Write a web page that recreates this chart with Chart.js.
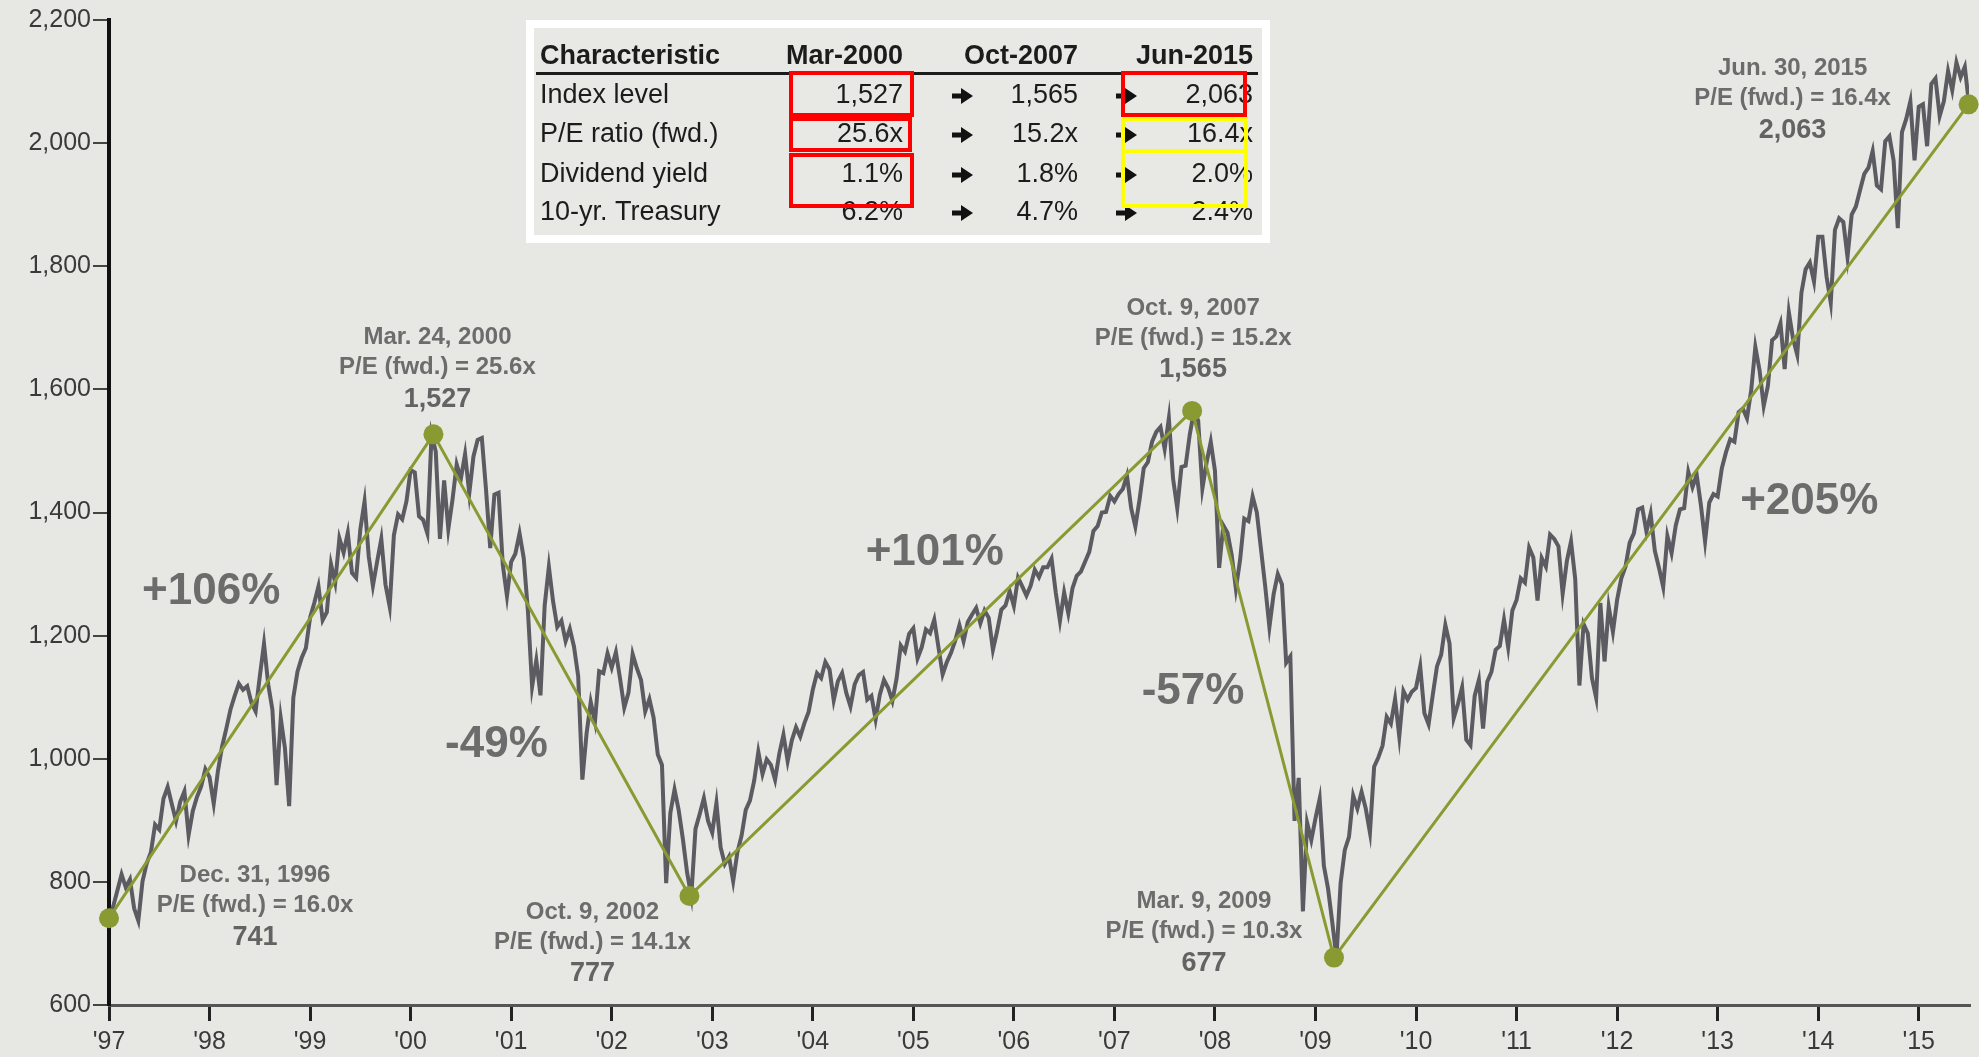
<!DOCTYPE html>
<html>
<head>
<meta charset="utf-8">
<title>S&amp;P 500 Index at inflection points</title>
<script src="https://cdn.jsdelivr.net/npm/chart.js@4.4.1/dist/chart.umd.min.js"></script>
<style>
    html, body { margin: 0; padding: 0; background: #e7e7e3; }
    #spxChart { display: block; }
</style>
</head>
<body>
<canvas id="spxChart" width="1979" height="1057"></canvas>
<script>
// S&P 500 level, Dec. 31, 1996 close, then two readings per month
// (intramonth swing, month-end close) for each year
const spxStart = 741;
const spx1997 = [760, 786, 812, 791, 804, 757, 737, 801, 830, 848, 893, 885, 935, 954, 926, 899, 930, 947, 876, 915, 938, 955, 983, 970];
const spx1998 = [927, 980, 1020, 1049, 1080, 1102, 1122, 1112, 1118, 1091, 1077, 1134, 1187, 1121, 1080, 957, 1066, 1017, 923, 1099, 1142, 1164, 1180, 1229];
const spx1999 = [1253, 1280, 1225, 1238, 1316, 1286, 1358, 1335, 1367, 1302, 1294, 1373, 1418, 1329, 1281, 1320, 1357, 1283, 1247, 1363, 1397, 1389, 1418, 1469];
const spx2000 = [1465, 1394, 1388, 1366, 1527, 1499, 1357, 1452, 1373, 1421, 1478, 1455, 1495, 1431, 1491, 1518, 1521, 1437, 1342, 1429, 1432, 1315, 1264, 1320];
const spx2001 = [1333, 1366, 1326, 1240, 1117, 1160, 1103, 1249, 1312, 1256, 1214, 1224, 1191, 1211, 1182, 1134, 966, 1041, 1092, 1060, 1142, 1139, 1171, 1148];
const spx2002 = [1173, 1130, 1083, 1107, 1170, 1147, 1128, 1077, 1097, 1067, 1007, 990, 798, 912, 950, 916, 869, 815, 777, 886, 910, 936, 899, 880];
const spx2003 = [928, 856, 829, 841, 801, 848, 875, 917, 932, 964, 1011, 975, 999, 990, 966, 1008, 1039, 996, 1030, 1051, 1036, 1058, 1076, 1112];
const spx2004 = [1139, 1131, 1157, 1145, 1095, 1126, 1139, 1107, 1085, 1121, 1136, 1141, 1096, 1102, 1064, 1104, 1128, 1115, 1094, 1130, 1184, 1174, 1203, 1212];
const spx2005 = [1163, 1181, 1210, 1204, 1226, 1181, 1137, 1157, 1172, 1192, 1217, 1191, 1222, 1234, 1245, 1220, 1241, 1229, 1177, 1207, 1242, 1249, 1272, 1248];
const spx2006 = [1294, 1280, 1265, 1281, 1307, 1295, 1311, 1311, 1325, 1270, 1224, 1270, 1236, 1277, 1297, 1304, 1320, 1336, 1370, 1378, 1400, 1401, 1427, 1418];
const spx2007 = [1430, 1438, 1460, 1407, 1377, 1421, 1472, 1482, 1515, 1531, 1539, 1503, 1553, 1455, 1407, 1474, 1476, 1527, 1565, 1549, 1439, 1481, 1515, 1468];
const spx2008 = [1310, 1379, 1367, 1331, 1276, 1323, 1390, 1386, 1426, 1400, 1340, 1280, 1214, 1267, 1300, 1283, 1156, 1166, 899, 969, 752, 896, 868, 903];
const spx2009 = [935, 826, 789, 735, 677, 798, 852, 873, 940, 919, 946, 919, 880, 987, 1002, 1021, 1068, 1057, 1097, 1036, 1110, 1096, 1109, 1115];
const spx2010 = [1150, 1074, 1056, 1104, 1150, 1169, 1217, 1187, 1066, 1089, 1116, 1031, 1022, 1102, 1128, 1049, 1125, 1141, 1177, 1183, 1226, 1181, 1241, 1258];
const spx2011 = [1293, 1286, 1343, 1327, 1257, 1326, 1312, 1364, 1357, 1345, 1268, 1321, 1353, 1292, 1119, 1219, 1204, 1131, 1099, 1253, 1158, 1247, 1206, 1258];
const spx2012 = [1293, 1312, 1351, 1366, 1405, 1408, 1369, 1398, 1338, 1310, 1279, 1362, 1334, 1379, 1405, 1407, 1466, 1441, 1461, 1412, 1353, 1416, 1430, 1426];
const spx2013 = [1472, 1498, 1519, 1515, 1563, 1569, 1553, 1598, 1669, 1631, 1573, 1606, 1680, 1686, 1707, 1633, 1725, 1682, 1656, 1757, 1795, 1806, 1775, 1848];
const spx2014 = [1848, 1783, 1741, 1859, 1878, 1872, 1815, 1884, 1897, 1924, 1950, 1960, 1987, 1931, 1925, 2003, 2011, 1972, 1862, 2018, 2039, 2068, 1972, 2059];
const spx2015 = [2063, 1995, 2096, 2105, 2044, 2068, 2117, 2086, 2131, 2107, 2124, 2063];

// Market peaks and troughs (date as decimal year)
const pivotDates = [1997.0, 2000.227, 2002.773, 2007.773, 2009.184, 2015.496];
const pivotLevels = [741, 1527, 777, 1565, 677, 2063];
const pivotDateLabels = ['Dec. 31, 1996', 'Mar. 24, 2000', 'Oct. 9, 2002', 'Oct. 9, 2007', 'Mar. 9, 2009', 'Jun. 30, 2015'];
const pivotPE = ['16.0x', '25.6x', '14.1x', '15.2x', '10.3x', '16.4x'];

// Summary table
const tableColumns = ['Mar-2000', 'Oct-2007', 'Jun-2015'];
const tableRowNames = ['Index level', 'P/E ratio (fwd.)', 'Dividend yield', '10-yr. Treasury'];
const indexLevel = ['1,527', '1,565', '2,063'];
const peRatio = ['25.6x', '15.2x', '16.4x'];
const dividendYield = ['1.1%', '1.8%', '2.0%'];
const treasury10y = ['6.2%', '4.7%', '2.4%'];

const yTicks = [600, 800, 1000, 1200, 1400, 1600, 1800, 2000, 2200];

const FONT = "'Liberation Sans', Arial, Helvetica, sans-serif";
const GREEN = '#8a9a32';
const LINE_GREY = '#5b5b61';
const LABEL_GREY = '#6c6c6c';

// Build the index series as {x, y} points
const spxYears = [spx1997, spx1998, spx1999, spx2000, spx2001, spx2002, spx2003, spx2004, spx2005, spx2006,
    spx2007, spx2008, spx2009, spx2010, spx2011, spx2012, spx2013, spx2014, spx2015];
const spxPoints = [{ x: 1997, y: spxStart }];
spxYears.forEach((vals, i) => {
    vals.forEach((v, k) => spxPoints.push({ x: 1997 + i + (k + 1) / 24, y: v }));
});

const pivotPoints = pivotDates.map((d, i) => ({ x: d, y: pivotLevels[i] }));

// Label placement, pixel offsets from the pivot dot / segment midpoint
const calloutOffsets = [[146, -43], [4, -97], [-97, 16], [1, -103], [-130, -56], [-176, -36]];
const changeOffsets = [[-60, -84], [-65, 80], [-6, -101], [-70, 8], [158, -29]];

const drawArrow = (ctx, cx, cy) => {
    ctx.fillStyle = '#111';
    ctx.fillRect(cx - 11, cy - 2.5, 11, 5);
    ctx.beginPath();
    ctx.moveTo(cx - 2, cy - 8);
    ctx.lineTo(cx + 10, cy);
    ctx.lineTo(cx - 2, cy + 8);
    ctx.closePath();
    ctx.fill();
};

const annotationPlugin = {
    id: 'pivotAnnotations',
    afterDatasetsDraw: (chart) => {
        const ctx = chart.ctx;
        const xs = chart.scales.x;
        const ys = chart.scales.y;
        const px = pivotPoints.map(p => [xs.getPixelForValue(p.x), ys.getPixelForValue(p.y)]);

        ctx.save();
        ctx.textAlign = 'center';
        ctx.textBaseline = 'middle';

        // Date / P/E / level callouts
        px.forEach(([x, y], i) => {
            const cx = x + calloutOffsets[i][0];
            const cy = y + calloutOffsets[i][1];
            ctx.fillStyle = LABEL_GREY;
            ctx.font = 'bold 24px ' + FONT;
            ctx.fillText(pivotDateLabels[i], cx, cy);
            ctx.fillText('P/E (fwd.) = ' + pivotPE[i], cx, cy + 30);
            ctx.font = 'bold 27px ' + FONT;
            ctx.fillStyle = '#636363';
            ctx.fillText(pivotLevels[i].toLocaleString('en-US'), cx, cy + 62);
        });

        // Percentage change along each leg
        ctx.font = 'bold 44px ' + FONT;
        ctx.fillStyle = LABEL_GREY;
        for (let i = 0; i < px.length - 1; i++) {
            const change = Math.round((pivotLevels[i + 1] / pivotLevels[i] - 1) * 100);
            const mx = (px[i][0] + px[i + 1][0]) / 2 + changeOffsets[i][0];
            const my = (px[i][1] + px[i + 1][1]) / 2 + changeOffsets[i][1];
            ctx.fillText((change > 0 ? '+' : '') + change + '%', mx, my);
        }
        ctx.restore();
    },
    afterDraw: (chart) => {
        const ctx = chart.ctx;
        ctx.save();

        // Table panel with white frame
        ctx.fillStyle = '#e8e8e4';
        ctx.fillRect(526, 20, 744, 223);
        ctx.strokeStyle = '#ffffff';
        ctx.lineWidth = 8;
        ctx.strokeRect(530, 24, 736, 215);

        const colRight = [903, 1078, 1253];
        const arrowX = [963, 1127];
        const rowY = [96, 135, 175, 213];

        ctx.fillStyle = '#1c1c1c';
        ctx.textBaseline = 'middle';
        ctx.font = 'bold 27px ' + FONT;
        ctx.textAlign = 'left';
        ctx.fillText('Characteristic', 540, 57);
        ctx.textAlign = 'right';
        tableColumns.forEach((c, i) => ctx.fillText(c, colRight[i], 57));

        ctx.fillRect(536, 72, 722, 3);

        const rows = [indexLevel, peRatio, dividendYield, treasury10y];
        ctx.font = '27px ' + FONT;
        rows.forEach((vals, r) => {
            ctx.fillStyle = '#1c1c1c';
            ctx.textAlign = 'left';
            ctx.fillText(tableRowNames[r], 540, rowY[r]);
            ctx.textAlign = 'right';
            vals.forEach((v, i) => ctx.fillText(v, colRight[i], rowY[r]));
            arrowX.forEach(ax => drawArrow(ctx, ax, rowY[r]));
        });

        // Highlight boxes
        ctx.lineWidth = 4;
        ctx.strokeStyle = '#ff0000';
        ctx.strokeRect(791, 73, 121, 42);
        ctx.strokeRect(791, 119, 119, 31);
        ctx.strokeRect(791, 155, 121, 51);
        ctx.strokeRect(1123, 73, 122, 42);
        ctx.strokeStyle = '#ffff00';
        ctx.strokeRect(1123, 119, 123, 32);
        ctx.strokeRect(1123, 151, 123, 55);

        ctx.restore();
    }
};

const ctx = document.getElementById('spxChart');
new Chart(ctx, {
    type: 'line',
    data: {
        datasets: [{
            label: 'Peak-to-trough',
            data: pivotPoints,
            borderColor: GREEN,
            borderWidth: 3,
            pointRadius: 10,
            pointBackgroundColor: GREEN,
            pointBorderWidth: 0,
            tension: 0,
            clip: false
        }, {
            label: 'S&P 500',
            data: spxPoints,
            borderColor: LINE_GREY,
            borderWidth: 4,
            pointRadius: 0,
            tension: 0
        }]
    },
    options: {
        responsive: false,
        animation: false,
        layout: { padding: { top: 20, right: 8, left: 0, bottom: 0 } },
        plugins: {
            legend: { display: false },
            tooltip: { enabled: false }
        },
        scales: {
            x: {
                type: 'linear',
                min: 1997,
                max: 2015.5,
                afterFit: (scale) => { scale.height = 52; },
                border: { color: '#555', width: 3 },
                grid: { drawOnChartArea: false, drawTicks: true, tickLength: 16, color: '#222', lineWidth: 3 },
                ticks: {
                    stepSize: 1,
                    includeBounds: false,
                    maxRotation: 0,
                    padding: 6,
                    color: '#3a3a3a',
                    font: { family: FONT, size: 25 },
                    callback: (v) => "'" + String(v).slice(2)
                }
            },
            y: {
                min: 600,
                max: 2200,
                afterFit: (scale) => { scale.width = 109; },
                afterBuildTicks: (scale) => { scale.ticks = yTicks.map(v => ({ value: v })); },
                border: { color: '#111', width: 4 },
                grid: { drawOnChartArea: false, drawTicks: true, tickLength: 16, color: '#444', lineWidth: 2 },
                ticks: {
                    padding: 2,
                    color: '#3a3a3a',
                    font: { family: FONT, size: 25 },
                    callback: (v) => v.toLocaleString('en-US')
                }
            }
        }
    },
    plugins: [annotationPlugin]
});
</script>
</body>
</html>
